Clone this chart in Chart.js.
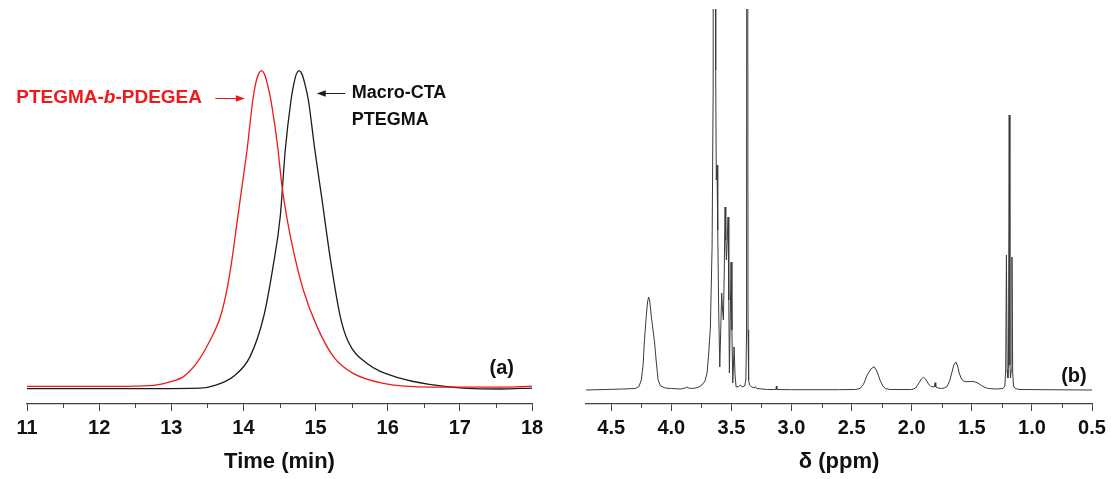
<!DOCTYPE html>
<html>
<head>
<meta charset="utf-8">
<script src="https://cdn.jsdelivr.net/npm/chart.js@4.4.1/dist/chart.umd.min.js"></script>
<style>
  html, body { margin: 0; padding: 0; background: #fff; }
  #wrap { position: relative; width: 1111px; height: 479px; overflow: hidden; background: #fff; }
  #gpcChart { position: absolute; left: 0; top: 0; }
  #nmrChart { position: absolute; left: 560px; top: 0; }
</style>
</head>
<body>
<div id="wrap">
  <canvas id="gpcChart" width="560" height="479"></canvas>
  <canvas id="nmrChart" width="551" height="479"></canvas>
</div>
<script>
// =====================
// Data
// =====================
const timeTicks = [11, 12, 13, 14, 15, 16, 17, 18];
const timeMinorTicks = [11.5, 12.5, 13.5, 14.5, 15.5, 16.5, 17.5];

// PTEGMA-b-PDEGEA (red)
const blockTime   = [11.0, 12.0, 12.5, 12.8, 12.97, 13.17, 13.35, 13.54, 13.68, 13.77, 13.84, 13.91, 13.98, 14.05, 14.13, 14.17, 14.21, 14.25, 14.29, 14.33, 14.38, 14.48, 14.53, 14.60, 14.69, 14.83, 15.02, 15.25, 15.52, 15.94, 16.63, 17.56, 18.0];
const blockSignal = [0.008, 0.008, 0.009, 0.013, 0.022, 0.039, 0.081, 0.154, 0.227, 0.311, 0.405, 0.521, 0.636, 0.751, 0.908, 0.960, 0.99, 1.0, 0.99, 0.960, 0.908, 0.751, 0.646, 0.541, 0.437, 0.311, 0.196, 0.101, 0.049, 0.018, 0.006, 0.006, 0.009];

// Macro-CTA PTEGMA (black)
const macroTime   = [11.0, 12.0, 13.40, 13.63, 13.86, 14.09, 14.28, 14.41, 14.51, 14.58, 14.66, 14.70, 14.735, 14.77, 14.81, 14.85, 14.90, 14.99, 15.09, 15.20, 15.34, 15.45, 15.71, 16.17, 16.63, 17.10, 17.56, 18.0];
const macroSignal = [0.001, 0.001, 0.003, 0.013, 0.039, 0.101, 0.227, 0.384, 0.541, 0.751, 0.908, 0.960, 0.99, 1.0, 0.99, 0.960, 0.908, 0.751, 0.594, 0.416, 0.230, 0.150, 0.081, 0.034, 0.013, 0.002, 0.0, 0.003];

const ppmTicks = [4.5, 4.0, 3.5, 3.0, 2.5, 2.0, 1.5, 1.0, 0.5];
const ppmMinorTicks = [4.25, 3.75, 3.25, 2.75, 2.25, 1.75, 1.25, 0.75];

// 1H NMR spectrum
const nmrPpm = [
  4.71, 4.55, 4.40, 4.30, 4.27, 4.25, 4.235, 4.225, 4.21, 4.198, 4.189, 4.18, 4.165, 4.139, 4.125, 4.11, 4.09, 4.05,
  4.00, 3.92, 3.885, 3.87, 3.855, 3.83, 3.80, 3.77, 3.745, 3.72, 3.703, 3.69, 3.675, 3.661, 3.652, 3.645, 3.636,
  3.631, 3.626, 3.62, 3.614, 3.606, 3.597, 3.589, 3.581, 3.574, 3.567, 3.56, 3.553, 3.547, 3.542, 3.535, 3.528,
  3.522, 3.517, 3.51, 3.503, 3.496, 3.489, 3.483, 3.478, 3.47, 3.461, 3.44, 3.425, 3.41, 3.39, 3.38, 3.374, 3.370,
  3.366, 3.362, 3.357, 3.35, 3.33, 3.31, 3.30, 3.29, 3.20, 3.13, 3.126, 3.122, 3.00, 2.60, 2.47, 2.43, 2.40, 2.37,
  2.34, 2.314, 2.29, 2.264, 2.24, 2.22, 2.18, 2.00, 1.967, 1.94, 1.92, 1.903, 1.885, 1.86, 1.84, 1.828, 1.812,
  1.806, 1.800, 1.78, 1.75, 1.73, 1.705, 1.685, 1.667, 1.65, 1.633, 1.618, 1.605, 1.59, 1.57, 1.55, 1.50, 1.48,
  1.45, 1.42, 1.39, 1.36, 1.30, 1.24, 1.225, 1.218, 1.212, 1.206, 1.200, 1.195, 1.189, 1.183, 1.178, 1.172,
  1.166, 1.160, 1.153, 1.14, 1.10, 0.90, 0.50
];
const nmrSignal = [
  0, 0.5, 1, 1.5, 3.3, 10, 25, 47, 72, 88, 93, 89, 72, 47, 28, 10, 4, 2,
  1.5, 1, 2, 3, 2, 1.5, 2, 3, 5, 9, 17, 35, 63, 143, 300, 1500, 1500,
  320, 210, 225, 160, 80, 23, 60, 97, 80, 70, 115, 183, 150, 130, 150, 173,
  90, 17, 70, 128, 60, 7, 25, 43, 15, 3, 3.5, 5, 3, 4, 10, 60, 1500,
  1500, 60, 10, 5, 3, 2, 3.5, 1.5, 0.5, 0.5, 4, 0.5, 0.3, 0.3, 0.5, 1.5, 6, 15,
  21, 23.3, 19, 10, 4, 1.5, 0.5, 0.5, 2, 7, 11, 12.7, 11, 6, 3.5, 3.3, 3,
  7.3, 3, 2, 1.5, 2, 3.5, 9, 17, 25, 28, 24, 17, 12, 9, 8.3, 8.5, 8.3,
  7, 4.5, 2.5, 1.5, 1, 1.5, 4, 20, 135, 20, 12, 25, 275, 25, 12, 20,
  133, 18, 4, 1.5, 0.5, 0.3, 0
];

// =====================
// Shared styling
// =====================
const FONT = "'Liberation Sans', Arial, Helvetica, sans-serif";
const AXIS_COLOR = '#444444';
const TEXT_COLOR = '#111111';

// minor tick marks drawn from the x scale
const minorTicks = {
  id: 'minorTicks',
  afterDraw(chart, args, opts) {
    const sx = chart.scales.x;
    const ctx = chart.ctx;
    ctx.save();
    ctx.strokeStyle = opts.color;
    ctx.lineWidth = 1;
    (opts.values || []).forEach(v => {
      const px = Math.round(sx.getPixelForValue(v)) + 0.5;
      ctx.beginPath();
      ctx.moveTo(px, sx.top);
      ctx.lineTo(px, sx.top + opts.length);
      ctx.stroke();
    });
    ctx.restore();
  }
};

// text labels and arrows, placed in data coordinates
const annotations = {
  id: 'annotations',
  afterDatasetsDraw(chart, args, opts) {
    const { ctx, scales: { x, y } } = chart;
    ctx.save();
    ctx.textBaseline = 'middle';
    (opts.texts || []).forEach(t => {
      const parts = t.parts;
      let total = 0;
      parts.forEach(p => { ctx.font = p.font; total += ctx.measureText(p.text).width; });
      let px = x.getPixelForValue(t.x);
      const py = y.getPixelForValue(t.y);
      if (t.align === 'right') px -= total;
      if (t.align === 'center') px -= total / 2;
      ctx.fillStyle = t.color;
      ctx.textAlign = 'left';
      parts.forEach(p => {
        ctx.font = p.font;
        ctx.fillText(p.text, px, py);
        px += ctx.measureText(p.text).width;
      });
    });
    (opts.arrows || []).forEach(a => {
      const x1 = x.getPixelForValue(a.from), x2 = x.getPixelForValue(a.to);
      const py = Math.round(y.getPixelForValue(a.y)) + 0.5;
      const dir = Math.sign(x2 - x1);
      ctx.strokeStyle = a.color;
      ctx.fillStyle = a.color;
      ctx.lineWidth = 1;
      ctx.beginPath();
      ctx.moveTo(x1, py);
      ctx.lineTo(x2 - dir * 6, py);
      ctx.stroke();
      ctx.beginPath();
      ctx.moveTo(x2, py);
      ctx.lineTo(x2 - dir * 9, py - 3.2);
      ctx.lineTo(x2 - dir * 9, py + 3.2);
      ctx.closePath();
      ctx.fill();
    });
    ctx.restore();
  }
};

function xAxis(min, max, ticks, title, reverse, fmt) {
  return {
    type: 'linear',
    min: min,
    max: max,
    reverse: reverse,
    afterBuildTicks: scale => { scale.ticks = ticks.map(v => ({ value: v })); },
    afterFit: scale => { scale.height = 75; },
    grid: { drawOnChartArea: false, drawTicks: true, tickLength: 7, color: AXIS_COLOR, lineWidth: 1 },
    border: { display: true, color: AXIS_COLOR, width: 1.3 },
    ticks: {
      autoSkip: false,
      maxRotation: 0,
      padding: 5,
      color: TEXT_COLOR,
      font: { family: FONT, size: 20, weight: 'bold' },
      callback: v => fmt(v)
    },
    title: {
      display: true,
      text: title,
      color: TEXT_COLOR,
      font: { family: FONT, size: 22, weight: 'bold' },
      padding: { top: 0, bottom: 4 }
    }
  };
}

// =====================
// (a) GPC traces
// =====================
new Chart(document.getElementById('gpcChart'), {
  type: 'line',
  data: {
    datasets: [
      {
        label: 'PTEGMA-b-PDEGEA',
        data: blockTime.map((t, i) => ({ x: t, y: blockSignal[i] })),
        borderColor: '#f01818',
        borderWidth: 1.3,
        pointRadius: 0,
        cubicInterpolationMode: 'monotone'
      },
      {
        label: 'Macro-CTA PTEGMA',
        data: macroTime.map((t, i) => ({ x: t, y: macroSignal[i] })),
        borderColor: '#1c1c1c',
        borderWidth: 1.3,
        pointRadius: 0,
        cubicInterpolationMode: 'monotone'
      }
    ]
  },
  options: {
    responsive: false,
    animation: false,
    devicePixelRatio: 1,
    layout: { padding: { left: 27, right: 28, top: 10, bottom: 0 } },
    plugins: {
      legend: { display: false },
      tooltip: { enabled: false },
      minorTicks: { values: timeMinorTicks, length: 4, color: AXIS_COLOR },
      annotations: {
        texts: [
          { x: 13.426, y: 0.914, align: 'right', color: '#f01818', parts: [
            { text: 'PTEGMA-', font: `bold 19px ${FONT}` },
            { text: 'b', font: `italic bold 19px ${FONT}` },
            { text: '-PDEGEA', font: `bold 19px ${FONT}` }
          ] },
          { x: 15.50, y: 0.929, align: 'left', color: TEXT_COLOR, parts: [{ text: 'Macro-CTA', font: `bold 18px ${FONT}` }] },
          { x: 15.50, y: 0.845, align: 'left', color: TEXT_COLOR, parts: [{ text: 'PTEGMA', font: `bold 18px ${FONT}` }] },
          { x: 17.58, y: 0.063, align: 'center', color: TEXT_COLOR, parts: [{ text: '(a)', font: `bold 20px ${FONT}` }] }
        ],
        arrows: [
          { from: 13.61, to: 14.02, y: 0.914, color: '#f01818' },
          { from: 15.41, to: 15.016, y: 0.929, color: '#1c1c1c' }
        ]
      }
    },
    scales: {
      x: xAxis(11, 18, timeTicks, 'Time (min)', false, v => String(v)),
      y: { type: 'linear', display: false, min: -0.0471, max: 1.1907 }
    }
  },
  plugins: [minorTicks, annotations]
});

// =====================
// (b) 1H NMR spectrum
// =====================
new Chart(document.getElementById('nmrChart'), {
  type: 'line',
  data: {
    datasets: [
      {
        label: '1H NMR',
        data: nmrPpm.map((p, i) => ({ x: p, y: nmrSignal[i] })),
        borderColor: '#3a3a3a',
        borderWidth: 1,
        pointRadius: 0,
        tension: 0
      }
    ]
  },
  options: {
    responsive: false,
    animation: false,
    devicePixelRatio: 1,
    layout: { padding: { left: 26, right: 19, top: 9, bottom: 0 } },
    plugins: {
      legend: { display: false },
      tooltip: { enabled: false },
      minorTicks: { values: ppmMinorTicks, length: 4, color: AXIS_COLOR },
      annotations: {
        texts: [
          { x: 0.65, y: 14, align: 'center', color: TEXT_COLOR, parts: [{ text: '(b)', font: `bold 20px ${FONT}` }] }
        ]
      }
    },
    scales: {
      x: xAxis(0.5, 4.71, ppmTicks, 'δ (ppm)', true, v => v.toFixed(1)),
      y: { type: 'linear', display: false, min: -14, max: 381 }
    }
  },
  plugins: [minorTicks, annotations]
});
</script>
</body>
</html>
